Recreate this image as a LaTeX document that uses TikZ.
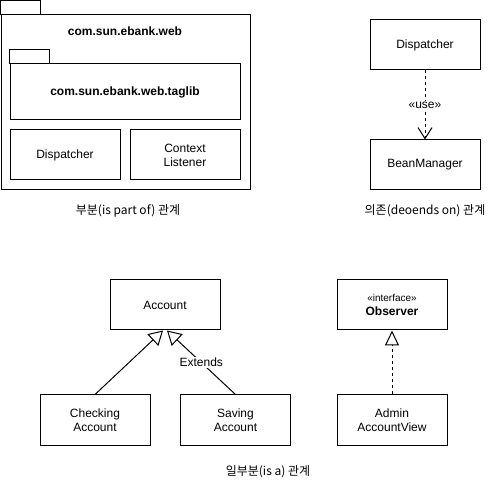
\documentclass[tikz,border=0pt]{standalone}
\usepackage{fontspec}
\setmainfont{Liberation Sans}
\newfontfamily\krfont{Noto Sans CJK KR}
\usetikzlibrary{arrows.meta,positioning}

\begin{document}
\begin{tikzpicture}
  [x=1pt, y=-1pt,
   every node/.style = {font=\fontsize{12}{14}\selectfont},
   classbox/.style = {draw, line width=1pt, minimum width=110pt, minimum height=50pt,
                      inner sep=0pt, align=center},
   pkgbox/.style = {draw, line width=1pt, inner sep=0pt},
   caption/.style = {font=\krfont\fontsize{12}{14}\selectfont},
   dependency/.style = {line width=1pt, dash pattern=on 3pt off 3pt,
                        -{Straight Barb[length=11pt, width=14pt]}},
   generalization/.style = {line width=1pt, -{Triangle[open, length=14pt, width=16pt]}},
   realization/.style = {line width=1pt, dash pattern=on 3pt off 3pt,
                         -{Triangle[open, length=15pt, width=14pt]}}]

\useasboundingbox (0,0) rectangle (504,481);

% Part of
\node[pkgbox, minimum width=249pt, minimum height=175pt] (web) at (125.5,102.5) {};
\draw[line width=1pt] (web.north west) rectangle ++(40,-14);
\node (webname) at (125,31) {\bfseries com.sun.ebank.web};
\node[pkgbox, minimum width=230pt, minimum height=56pt] (taglib) at (125,92)
  {\bfseries com.sun.ebank.web.taglib};
\draw[line width=1pt] (taglib.north west) rectangle ++(40,-14);
\node[classbox] (dispA) at (65,155) {Dispatcher};
\node[classbox] (listener) at (185,155) {Context\\Listener};
\node[caption] (capA) at (128,211) {부분(is part of) 관계};

% Depends on
\node[classbox] (dispB) at (425,45) {Dispatcher};
\node[classbox] (bean) at (425,165) {BeanManager};
\draw[dependency] (dispB) -- node[fill=white, inner sep=1pt] {«use»} (bean);
\node[caption] (capB) at (425,211) {의존(deoends on) 관계};

% Is a
\node[classbox] (account) at (165,305) {Account};
\node[classbox] (checking) at (95,420) {Checking\\Account};
\node[classbox] (saving) at (235.5,420) {Saving\\Account};
\draw[generalization] (checking.north) -- ([xshift=-2pt]account.south);
\draw[generalization] (saving.north) -- node[fill=white, inner sep=1pt] {Extends}
  ([xshift=2pt]account.south);
\node[caption] (capC) at (268,472) {일부분(is a) 관계};

% Interface
\node[classbox] (observer) at (392,305)
  {{\fontsize{10}{12}\selectfont «interface»}\\\textbf{Observer}};
\node[classbox] (admin) at (392,420) {Admin\\AccountView};
\draw[realization] (admin) -- (observer);

\end{tikzpicture}
\end{document}
